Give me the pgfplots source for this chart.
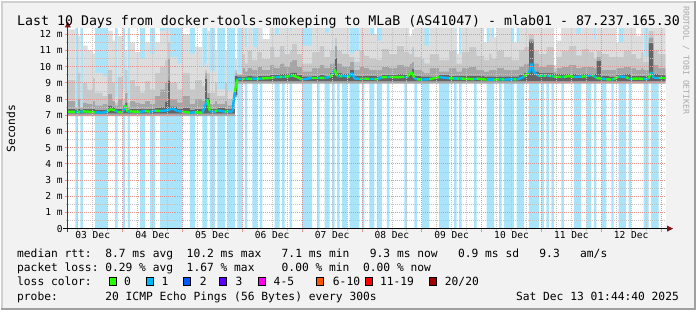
\documentclass[border=0pt]{standalone}
\usepackage{fontspec}
\setmainfont{DejaVu Sans Mono}
\usepackage{pgfplots}
\pgfplotsset{compat=1.18}
\usepackage{pgfplotstable}

\definecolor{canvas}{RGB}{242,242,242}
\definecolor{lossbg}{RGB}{170,228,250}
\definecolor{smA}{RGB}{221,221,221}
\definecolor{smB}{RGB}{200,200,200}
\definecolor{smC}{RGB}{165,165,165}
\definecolor{smD}{RGB}{100,100,100}
\definecolor{gridred}{RGB}{225,150,150}
\definecolor{gridgray}{RGB}{195,195,195}
\definecolor{arrowred}{RGB}{128,20,20}
\definecolor{lcA}{RGB}{38,255,0}
\definecolor{lcB}{RGB}{0,184,255}
\definecolor{lcC}{RGB}{0,89,255}
\definecolor{lcD}{RGB}{94,0,255}
\definecolor{lcE}{RGB}{255,0,240}
\definecolor{lcF}{RGB}{255,85,0}
\definecolor{lcG}{RGB}{255,0,0}
\definecolor{lcH}{RGB}{161,0,0}

% hours since 03 Dec 00:00, median rtt (ms), lost pings (0 or 1 of 20)
\pgfplotstableread{
h med loss
2 7.22 0
5 7.20 1
6 7.22 0
7 7.20 1
8 7.24 0
10 7.22 0
13 7.18 1
16 7.16 1
18 7.24 0
19 7.38 0
21 7.30 1
22 7.20 0
24 7.18 1
25 7.62 0
26 7.20 1
27 7.24 0
29 7.22 0
31 7.20 1
33 7.26 0
35 7.22 1
37 7.28 0
39 7.26 1
42 7.30 1
44 7.42 1
46 7.26 1
48 7.22 0
51 7.16 1
53 7.18 0
56 7.16 1
58 7.96 0
59 7.24 1
61 7.22 0
62 7.30 1
65 7.22 0
66 7.24 1
68 7.22 1
69 8.45 0
70 9.22 1
72 9.25 0
73 9.24 1
74 9.26 0
76 9.24 1
78 9.26 0
79 9.25 1
80 9.27 0
83 9.30 0
85 9.34 1
87 9.37 0
88 9.36 1
89 9.38 0
91 9.40 1
92 9.46 0
94 9.36 0
96 9.20 1
100 9.30 0
102 9.30 1
103 9.31 0
105 9.30 1
107 9.36 0
108 9.50 1
109 9.82 0
110 9.42 1
111 9.40 0
112 9.42 1
114 9.40 0
115 9.40 1
116 9.62 1
117 9.26 1
119 9.25 0
120 9.24 1
121 9.26 0
123 9.24 1
125 9.24 0
126 9.22 1
128 9.34 0
130 9.35 1
131 9.36 0
134 9.35 0
137 9.36 1
138 9.35 0
140 9.67 0
141 9.30 1
142 9.22 0
144 9.20 1
147 9.22 0
151 9.35 1
155 9.28 0
157 9.27 1
158 9.27 0
159 9.26 1
160 9.26 0
163 9.24 0
165 9.22 1
166 9.26 0
170 9.20 1
173 9.20 0
175 9.21 1
176 9.22 0
177 9.20 1
181 9.22 0
182 9.20 1
184 9.30 1
185 9.40 0
186 9.50 0
187 9.60 1
188 10.19 1
189 9.62 1
191 9.42 0
192 9.45 1
193 9.45 0
194 9.45 1
195 9.44 0
196 9.42 1
197 9.38 0
200 9.37 1
201 9.36 0
203 9.42 0
205 9.36 1
208 9.38 0
210 9.40 1
212 9.50 0
213 9.42 1
214 9.30 0
216 9.26 1
218 9.22 0
220 9.20 1
221 9.22 0
223 9.40 1
226 9.35 0
227 9.26 1
228 9.25 0
231 9.26 0
233 9.24 1
235 9.26 0
236 9.67 1
237 9.30 1
239 9.30 0
241.8 9.30 0
}\lossmed

% smoke: bottom, and tops of the four grey bands (ms)
\pgfplotstableread{
h lo ta tb tc td
2 6.95 12.30 9.2 7.9 7.45
5 6.95 7.55 7.50 7.45 7.40
6 6.95 11.90 9.6 8.0 7.45
7 6.95 7.55 7.50 7.45 7.40
8 6.95 11.30 9.0 7.8 7.45
10 6.95 11.00 8.6 7.7 7.42
12 6.95 10.80 9.3 7.9 7.45
13 6.95 9.60 8.4 7.6 7.40
16 6.95 9.40 8.2 7.7 7.40
18 6.95 12.20 9.8 8.3 7.65
20 6.95 11.60 9.0 7.9 7.55
21 6.95 8.10 7.8 7.6 7.45
22 6.95 11.90 9.4 8.0 7.45
24 6.95 8.60 8.0 7.6 7.42
25 6.95 11.00 9.8 8.4 7.85
26 6.95 8.00 7.8 7.5 7.40
27 6.95 11.50 9.2 7.9 7.45
29 6.95 10.90 8.8 7.8 7.45
31 6.95 10.50 8.4 7.7 7.42
33 6.95 11.50 9.1 7.9 7.45
35 6.95 10.80 8.6 7.7 7.42
37 6.95 11.50 9.6 8.2 7.50
39 6.95 12.20 10.0 8.6 7.55
41 6.95 12.30 10.4 9.0 7.90
42 6.95 12.30 11.5 10.5 9.20
43 6.95 10.60 9.0 8.0 7.60
46 6.95 10.20 8.6 7.8 7.45
48 6.95 12.00 9.6 8.2 7.50
51 6.95 10.80 8.6 7.7 7.40
53 6.95 11.20 9.2 8.0 7.45
56 6.95 10.00 8.8 7.9 7.45
57 6.95 10.20 9.8 9.6 9.30
58 6.95 12.20 9.6 8.4 8.10
59 6.95 9.70 8.4 7.7 7.42
61 6.95 11.00 9.0 7.9 7.45
62 6.95 8.60 8.2 7.7 7.50
65 6.95 11.00 9.0 7.9 7.45
66 6.95 8.50 8.0 7.6 7.42
69 8.10 10.50 9.8 9.6 9.50
70 8.95 9.60 9.55 9.50 9.45
72 8.95 12.37 10.8 9.9 9.45
73 8.95 11.20 10.2 9.7 9.45
74 8.95 12.37 11.0 9.9 9.48
76 8.95 11.20 10.4 9.8 9.45
78 8.95 12.37 10.9 10.0 9.50
80 8.95 11.70 10.5 9.8 9.48
83 8.95 12.37 11.2 10.1 9.55
85 8.95 12.00 10.6 9.9 9.55
87 8.95 12.37 11.3 10.2 9.60
89 8.95 12.37 10.8 10.0 9.60
91 8.95 12.20 11.0 10.3 9.65
92 8.95 12.37 11.4 10.4 9.70
94 8.95 12.37 10.8 10.0 9.55
96 8.95 11.30 10.2 9.7 9.45
100 8.95 12.37 10.9 9.9 9.50
103 8.95 12.37 11.3 10.1 9.55
105 8.95 12.10 10.6 9.9 9.50
107 8.95 12.37 11.0 10.2 9.65
109 8.95 12.37 11.8 11.3 10.60
110 8.95 12.37 11.0 10.2 9.65
112 8.95 12.37 10.8 10.0 9.60
115 8.95 10.80 10.6 10.3 9.85
117 8.95 11.00 10.3 9.8 9.50
119 8.95 12.37 11.0 10.0 9.50
121 8.95 12.37 10.7 9.9 9.48
123 8.95 12.00 10.5 9.8 9.48
126 8.95 11.60 10.4 9.8 9.45
128 8.95 12.37 11.1 10.0 9.55
131 8.95 12.37 10.8 9.9 9.55
134 8.95 12.37 11.3 10.1 9.58
137 8.95 12.37 10.9 10.0 9.55
139 8.95 11.90 10.8 10.2 9.60
140 8.95 12.30 11.2 10.3 9.90
141 8.95 12.37 10.6 9.8 9.50
144 8.95 12.37 10.5 9.7 9.45
145 8.95 11.30 10.2 9.6 9.45
147 8.95 12.37 10.8 9.9 9.45
151 8.95 12.37 10.4 9.7 9.55
155 8.95 12.37 11.0 9.9 9.50
158 8.95 10.80 10.2 9.7 9.48
160 8.95 12.37 10.9 9.9 9.48
163 8.95 12.37 11.2 10.0 9.48
166 8.95 12.37 10.7 9.8 9.48
169 8.95 11.50 10.4 9.7 9.45
171 8.95 12.37 10.8 9.8 9.45
172 8.95 11.80 10.5 9.8 9.45
174 8.95 12.37 11.0 9.9 9.45
177 8.95 12.37 10.6 9.8 9.45
180 8.95 11.50 10.4 9.8 9.45
183 8.95 12.37 11.0 10.0 9.55
185 8.95 12.37 11.2 10.2 9.70
187 8.95 12.37 12.0 11.7 11.60
189 8.95 12.37 11.0 10.2 9.75
191 8.95 12.37 10.8 10.0 9.65
194 8.95 12.37 11.2 10.1 9.65
197 8.95 10.10 9.9 9.7 9.60
198 8.95 11.60 10.6 9.9 9.60
200 8.95 12.37 11.0 10.0 9.58
203 8.95 12.37 11.3 10.1 9.60
206 8.95 12.00 10.7 9.9 9.55
208 8.95 12.37 11.1 10.0 9.58
211 8.95 12.37 10.9 10.0 9.60
213 8.95 11.70 10.5 9.9 9.60
214 8.95 12.37 11.0 10.6 10.40
216 8.95 12.37 10.8 9.8 9.48
219 8.95 12.37 10.6 9.8 9.45
222 8.95 11.50 10.6 9.9 9.55
225 8.95 12.37 11.0 10.0 9.58
228 8.95 12.37 10.8 9.9 9.50
230 8.95 11.90 10.5 9.8 9.48
232 8.95 12.37 10.9 9.9 9.50
233 8.95 10.60 10.3 9.8 9.50
235 8.95 12.37 12.2 11.8 11.50
237 8.95 12.37 11.0 10.1 9.60
239 8.95 12.37 10.8 9.9 9.52
241.8 8.95 12.37 10.8 9.9 9.52
}\smoke

\newcommand{\legfont}{\fontsize{11.3}{13}\selectfont}
\newcommand{\tickfont}{\fontsize{9.6}{11}\selectfont}

\begin{document}
\frenchspacing
\begin{tikzpicture}[x=1pt,y=1pt]
\fill[canvas] (0,0) rectangle (697,310);
\draw[line width=2pt, color={rgb,255:red,208;green,208;blue,208}] (1,0) -- (1,309) -- (697,309);
\draw[line width=2pt, color={rgb,255:red,160;green,160;blue,160}] (0,1) -- (696,1) -- (696,310);

\begin{axis}[
  at={(67pt,81.7pt)}, anchor=south west,
  scale only axis, width=599.5pt, height=201pt,
  xmin=2, xmax=241.8, ymin=0, ymax=12.37,
  axis on top, clip=true,
  axis line style={draw=none},
  axis background/.style={fill=white},
  tick align=outside,
  xtick pos=left, ytick pos=left,
  xtick={24,48,...,240}, xticklabels={},
  minor xtick={6,12,18,30,36,42,54,60,66,78,84,90,102,108,114,126,132,138,150,156,162,174,180,186,198,204,210,222,228,234},
  extra x ticks={12,36,60,84,108,132,156,180,204,228},
  extra x tick labels={03 Dec,04 Dec,05 Dec,06 Dec,07 Dec,08 Dec,09 Dec,10 Dec,11 Dec,12 Dec},
  extra x tick style={major tick length=0pt, grid=none},
  ytick={0,1,...,12},
  yticklabels={0,1 m,2 m,3 m,4 m,5 m,6 m,7 m,8 m,9 m,10 m,11 m,12 m},
  minor ytick={0.5,1.5,...,11.5},
  grid=both,
  major grid style={gridred, dash pattern=on 1pt off 1pt, line width=0.7pt},
  minor grid style={gridgray, dash pattern=on 1pt off 1pt, line width=0.7pt},
  major tick length=3pt, minor tick length=2pt,
  major tick style={gridred, line width=0.7pt},
  minor tick style={gridgray, line width=0.7pt},
  ticklabel style={font=\tickfont, inner sep=0pt},
  yticklabel style={anchor=east, xshift=-2pt},
  xticklabel style={anchor=north, yshift=-3pt},
  colormap={lossmap}{rgb255(0)=(38,255,0) rgb255(1)=(0,184,255)},
  point meta min=0, point meta max=1,
  /pgf/number format/assume math mode=true,
]
% loss background bars
\addplot[const plot, draw=none, fill=lossbg] table[x=h, y expr=\thisrow{loss}*12.37] {\lossmed} \closedcycle;
% smoke, stacked bands from the bottom of the smoke upwards
\addplot[stack plots=y, const plot, draw=none] table[x=h, y=lo] {\smoke};
\addplot[stack plots=y, const plot, draw=none, fill=smC] table[x=h, y expr=0.15] {\smoke} \closedcycle;
\addplot[stack plots=y, const plot, draw=none, fill=smD] table[x=h, y expr=\thisrow{td}-\thisrow{lo}-0.2] {\smoke} \closedcycle;
\addplot[stack plots=y, const plot, draw=none, fill=smC] table[x=h, y expr=\thisrow{tc}-\thisrow{td}+0.05] {\smoke} \closedcycle;
\addplot[stack plots=y, const plot, draw=none, fill=smB] table[x=h, y expr=\thisrow{tb}-\thisrow{tc}] {\smoke} \closedcycle;
\addplot[stack plots=y, const plot, draw=none, fill=smA] table[x=h, y expr=\thisrow{ta}-\thisrow{tb}] {\smoke} \closedcycle;
% median coloured by loss
\addplot[stack plots=false, mesh, shader=flat corner, line width=2.4pt, point meta=explicit] table[x=h, y=med, meta=loss] {\lossmed};
\end{axis}

% axis lines with arrows
\draw[line width=1pt, color={rgb,255:red,60;green,60;blue,60}] (67,78) -- (67,284);
\fill[arrowred] (64,283.5) -- (70,283.5) -- (67,289.5) -- cycle;
\draw[line width=1.2pt, black] (62,81.7) -- (669,81.7);
\fill[arrowred] (668,78.7) -- (668,84.7) -- (674,81.7) -- cycle;

% title and labels
\node[anchor=base, inner sep=0pt, font=\fontsize{13.3}{15}\selectfont] at (348.5,285.7)
  {Last 10 Days from docker-tools-smokeping to MLaB (AS41047) - mlab01 - 87.237.165.30};
\node[rotate=90, inner sep=0pt, font=\legfont] at (10,182) {Seconds};
\node[rotate=-90, anchor=base west, inner sep=0pt, font=\fontsize{8.2}{9}\selectfont, text={rgb,255:red,170;green,170;blue,170}] at (684.3,305) {RRDTOOL / TOBI OETIKER};

% legend
\node[anchor=base west, inner sep=0pt, font=\legfont] at (16,52.7)
  {median rtt:\ \ 8.7 ms avg\ \ 10.2 ms max\ \ \ 7.1 ms min\ \ \ 9.3 ms now\ \ \ 0.9 ms sd\ \ \ 9.3\ \ \ am/s};
\node[anchor=base west, inner sep=0pt, font=\legfont] at (16,38.3)
  {packet loss: 0.29 \% avg\ \ 1.67 \% max\ \ \ \ 0.00 \% min\ \ 0.00 \% now};
\node[anchor=base west, inner sep=0pt, font=\legfont] at (16,24.3) {loss color:};
\node[anchor=base west, inner sep=0pt, font=\legfont] at (16,10)
  {probe:\ \ \ \ \ \ \ 20 ICMP Echo Pings (56 Bytes) every 300s};
\node[anchor=base east, inner sep=0pt, font=\legfont] at (680,10) {Sat Dec 13 01:44:40 2025};

\foreach \bx/\lx/\col/\lab in {108.3/123.3/lcA/0, 146/161/lcB/1, 182.7/199.3/lcC/2, 219/235/lcD/3, 257.7/273.3/lcE/4-5, 316.7/332.7/lcF/6-10, 365/380/lcG/11-19, 430/445/lcH/{20/20}}{
  \filldraw[fill=\col, draw=black, line width=0.8pt] (\bx,24.7) rectangle ++(7,7.6);
  \node[anchor=base west, inner sep=0pt, font=\legfont] at (\lx,24.3) {\lab};
}
\end{tikzpicture}
\end{document}
